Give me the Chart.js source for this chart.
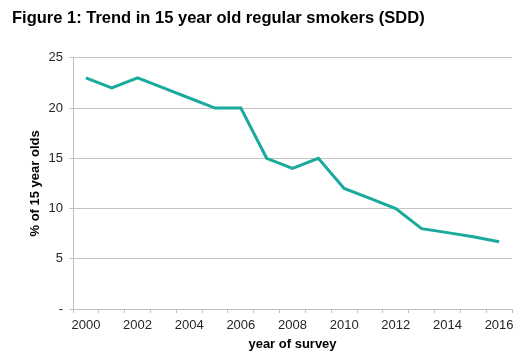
<!DOCTYPE html>
<html>
<head>
<meta charset="utf-8">
<script src="https://cdn.jsdelivr.net/npm/chart.js@4/dist/chart.umd.min.js"></script>
<style>
  html, body { margin: 0; padding: 0; background: #fff; }
  #wrap { width: 528px; height: 358px; }
</style>
</head>
<body>
<div id="wrap"><canvas id="chart-smokers" width="528" height="358"></canvas></div>
<script>
/* Data */

var years = [ "2000", "2001", "2002", "2003", "2004", "2005", "2006", "2007", "2008",
	"2009", "2010", "2011", "2012", "2013", "2014", "2015", "2016" ];
var smokers = [ 23, 22, 23, 22, 21, 20, 20, 15, 14, 15, 12, 11, 10, 8, 7.6, 7.2, 6.7 ];
var yTicks = [ 0, 5, 10, 15, 20, 25 ];

/* Chart */

var font = "Arial, 'Liberation Sans', sans-serif";

var ctxsmokers = document.getElementById("chart-smokers").getContext('2d');
var myChart = new Chart(ctxsmokers, {
	type: 'line',
	data: {
		labels: years,
		datasets: [{
			label: "regular smokers",
			data: smokers,
			borderColor: '#19aa9d',
			backgroundColor: '#19aa9d',
			borderWidth: 3,
			pointRadius: 0,
			tension: 0,
			fill: false
		}]
	},
	options: {
		responsive: false,
		animation: false,
		layout: { padding: { left: 12, right: 16, top: 0, bottom: 0 } },
		plugins: {
			legend: { display: false },
			tooltip: { enabled: false },
			title: {
				display: true,
				text: "Figure 1: Trend in 15 year old regular smokers (SDD)",
				align: 'start',
				color: '#000',
				font: { family: font, size: 16.5, weight: 'bold' },
				padding: { top: 9, bottom: 29 }
			}
		},
		scales: {
			x: {
				offset: true,
				grid: { offset: true, drawOnChartArea: false, drawTicks: true, tickLength: 4, color: '#bfbfbf' },
				border: { color: '#bfbfbf' },
				ticks: {
					autoSkip: false,
					maxRotation: 0,
					padding: 5,
					color: '#262626',
					font: { family: font, size: 13 },
					callback: function( v, i ) { return ( i % 2 === 0 ) ? years[i] : ''; }
				},
				title: {
					display: true,
					text: "year of survey",
					color: '#000',
					font: { family: font, size: 13, weight: 'bold' },
					padding: { top: 0, bottom: 6 }
				},
				afterFit: function( scale ) { scale.height = 49; }
			},
			y: {
				min: 0,
				max: 25,
				afterBuildTicks: function( scale ) {
					scale.ticks = yTicks.map(function( v ) { return { value: v }; });
				},
				grid: { color: '#c4c4c4', tickLength: 4 },
				border: { color: '#bfbfbf' },
				ticks: {
					padding: 6,
					color: '#262626',
					font: { family: font, size: 13 },
					callback: function( v ) { return v === 0 ? '-' : v; }
				},
				title: {
					display: true,
					text: "% of 15 year olds",
					color: '#000',
					font: { family: font, size: 13, weight: 'bold' },
					padding: { top: 16, bottom: 0 }
				},
				afterFit: function( scale ) { scale.width = 61; }
			}
		}
	}
});
</script>
</body>
</html>
